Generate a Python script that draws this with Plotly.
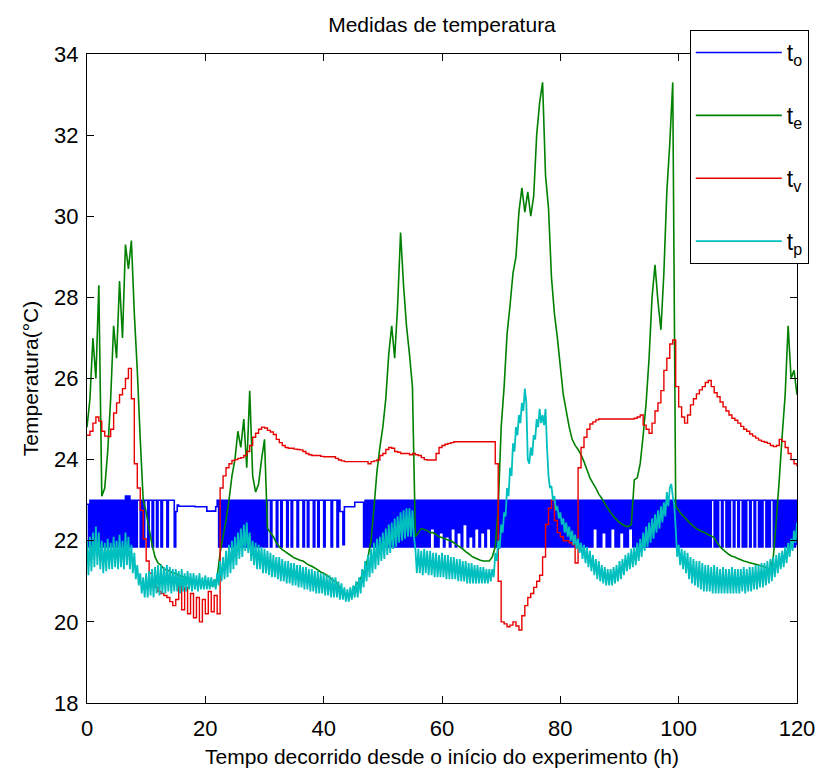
import plotly.graph_objects as go

# ---------------- data ----------------
STEP_FINE = 0.25    # h, sampling of t_o and t_p
STEP_COARSE = 0.5   # h, sampling of t_e and t_v

X_TICKS = [0, 20, 40, 60, 80, 100, 120]
Y_TICKS = [18, 20, 22, 24, 26, 28, 30, 32, 34]

# t_o : 0 .. 120 h, every 0.25 h (10 values per row = 2.5 h)
t_o = [
    22.9, 21.85, 23, 21.85, 23, 21.85, 23, 21.85, 23, 21.85,      # 0
    23, 21.85, 23, 21.85, 23, 21.85, 23, 21.85, 23, 21.85,        # 2.5
    23, 21.85, 23, 21.85, 23, 21.85, 23.1, 21.85, 23.1, 21.85,    # 5
    23, 21.85, 23, 21.85, 23, 23, 21.85, 23, 21.85, 23,           # 7.5
    23, 21.85, 23, 23, 21.85, 23, 23, 21.85, 23, 23,              # 10
    21.85, 23, 23, 23, 21.85, 23, 23, 23, 23, 21.85,              # 12.5
    22.72, 22.88, 22.85, 22.85, 22.85, 22.85, 22.85, 22.85, 22.85, 22.85,  # 15
    22.85, 22.85, 22.85, 22.84, 22.84, 22.84, 22.84, 22.84, 22.84, 22.84,  # 17.5
    22.84, 22.73, 22.73, 22.73, 22.73, 22.73, 22.73, 22.84, 23, 21.85,     # 20
    23, 21.85, 23, 21.85, 23, 21.85, 23, 21.85, 23, 21.85,        # 22.5
    23, 21.85, 23, 21.85, 23, 21.85, 23, 21.85, 23, 21.85,        # 25
    23, 21.85, 23, 21.85, 23, 21.85, 23, 21.85, 23, 21.85,        # 27.5
    23, 21.85, 23, 23, 21.85, 23, 23, 23, 21.85, 23,              # 30
    23, 21.85, 23, 23, 23, 21.85, 23, 23, 21.85, 23,              # 32.5
    23, 23, 21.85, 23, 23, 23, 21.85, 23, 23, 21.85,              # 35
    23, 23, 23, 21.85, 23, 23, 21.85, 23, 23, 23,                 # 37.5
    21.85, 23, 23, 23, 23, 21.85, 23, 23, 23, 21.85,              # 40
    23, 22.72, 22.72, 21.9, 22.84, 22.84, 22.84, 22.84, 22.84, 22.84,      # 42.5
    22.84, 22.95, 22.95, 22.95, 22.95, 22.95, 22.95, 21.85, 23, 21.85,     # 45
    23, 21.85, 23, 21.85, 23, 21.85, 23, 21.85, 23, 21.85,        # 47.5
    23, 21.85, 23, 21.85, 23, 21.85, 23, 21.85, 23, 21.85,        # 50
    23, 21.85, 23, 21.85, 23, 21.85, 23, 21.85, 23, 21.85,        # 52.5
    23, 21.85, 23, 21.85, 23, 21.85, 23, 21.85, 23, 21.85,        # 55
    23, 21.85, 23, 22.3, 23, 21.85, 23, 21.85, 23, 22.2,          # 57.5
    23, 21.85, 23, 22.1, 23, 21.85, 23, 22.3, 23, 21.85,          # 60
    23, 22.2, 23, 21.85, 23, 22.4, 23, 21.85, 23, 22.1,           # 62.5
    23, 21.85, 23, 22.3, 23, 21.85, 23, 22.2, 23, 21.85,          # 65
    23, 22.3, 23, 21.85, 23, 21.85, 23, 21.85, 23, 21.85,         # 67.5
    23, 21.85, 23, 21.85, 23, 21.85, 23, 21.85, 23, 21.85,        # 70
    23, 21.85, 23, 21.85, 23, 21.85, 23, 21.85, 23, 21.85,        # 72.5
    23, 21.85, 23, 21.85, 23, 21.85, 23, 21.85, 23, 21.85,        # 75
    23, 21.85, 23, 21.85, 23, 21.85, 23, 21.85, 23, 21.85,        # 77.5
    23, 21.85, 23, 21.85, 23, 21.85, 23, 21.85, 23, 21.85,        # 80
    23, 21.85, 23, 21.85, 23, 21.85, 23, 21.85, 23, 21.85,        # 82.5
    23, 21.85, 23, 22.3, 23, 21.85, 23, 21.85, 23, 22.2,          # 85
    23, 21.85, 23, 21.85, 23, 22.3, 23, 21.85, 23, 21.85,         # 87.5
    23, 22.2, 23, 21.85, 23, 21.85, 23, 22.3, 23, 21.85,          # 90
    23, 21.85, 23, 21.85, 23, 21.85, 23, 21.85, 23, 21.85,        # 92.5
    23, 21.85, 23, 21.85, 23, 21.85, 23, 21.85, 23, 21.85,        # 95
    23, 21.85, 23, 21.85, 23, 21.85, 23, 21.85, 23, 21.85,        # 97.5
    23, 21.85, 23, 21.85, 23, 21.85, 23, 21.85, 23, 21.85,        # 100
    23, 21.85, 23, 21.85, 23, 21.85, 23, 21.85, 23, 21.85,        # 102.5
    23, 21.85, 23, 23, 21.85, 23, 21.85, 23, 23, 21.85,           # 105
    23, 23, 21.85, 23, 21.85, 23, 23, 21.85, 23, 23,              # 107.5
    21.85, 23, 23, 21.85, 23, 21.85, 23, 23, 21.85, 23,           # 110
    23, 21.85, 23, 23, 21.85, 23, 21.85, 23, 23, 21.85,           # 112.5
    23, 21.85, 23, 23, 21.85, 23, 21.85, 23, 21.85, 23,           # 115
    21.85, 23, 21.85, 23, 21.85, 23, 21.85, 23, 21.85, 23,        # 117.5
    21.9,                                                          # 120
]

# t_e : 0 .. 120 h, every 0.5 h (10 values per row = 5 h)
t_e = [
    24.8, 25.5, 27.0, 26.0, 28.3, 23.1, 23.3, 24.2, 25.5, 27.3,            # 0
    26.5, 28.4, 27.0, 29.3, 28.7, 29.4, 27.6, 26.2, 24.5, 23.0,            # 5
    22.7, 22.3, 21.9, 21.6, 21.45, 21.4, 21.3, 21.28, 21.25, 21.2,         # 10
    21.2, 21.15, 21.12, 21.1, 21.08, 21.05, 21.03, 21.0, 21.0, 20.98,      # 15
    20.95, 20.92, 20.9, 20.9, 21.1, 21.7, 22.1, 22.5, 23.0, 23.6,          # 20
    24.0, 24.7, 24.3, 25.0, 23.8, 25.7, 23.6, 23.2, 23.4, 24.0,            # 25
    24.5, 22.3, 22.2, 22.1, 21.95, 21.85, 21.78, 21.73, 21.68, 21.63,      # 30
    21.58, 21.55, 21.52, 21.5, 21.45, 21.4, 21.37, 21.33, 21.28, 21.23,    # 35
    21.2, 21.15, 21.1, 21.03, 21.0, 20.9, 20.8, 20.72, 20.63, 20.65,       # 40
    20.8, 20.9, 21.0, 21.15, 21.3, 21.6, 22.0, 22.8, 23.7, 24.3,           # 45
    24.8, 25.5, 26.6, 27.3, 26.5, 27.8, 29.6, 28.3, 27.3, 26.6,            # 50
    25.8, 22.1, 22.2, 22.3, 22.28, 22.25, 22.2, 22.2, 22.15, 22.1,         # 55
    22.08, 22.05, 22.02, 22.0, 21.95, 21.9, 21.85, 21.8, 21.73, 21.68,     # 60
    21.62, 21.58, 21.55, 21.52, 21.5, 21.5, 21.5, 21.6, 21.85, 22.8,       # 65
    24.8, 25.8, 27.1, 27.8, 28.6, 29.0, 30.1, 30.7, 30.1, 30.6,            # 70
    30.0, 30.5, 32.0, 32.8, 33.3, 31.0, 30.2, 28.5, 27.6, 27.0,            # 75
    26.3, 25.6, 25.2, 24.8, 24.5, 24.35, 24.25, 24.12, 23.95, 23.75,       # 80
    23.55, 23.42, 23.3, 23.15, 23.05, 22.92, 22.8, 22.7, 22.6, 22.52,      # 85
    22.45, 22.4, 22.36, 22.35, 22.4, 23.5, 23.55, 23.9, 24.6, 25.4,        # 90
    26.5, 28.0, 28.8, 27.9, 27.2, 28.6, 30.6, 31.8, 33.3, 22.85,           # 95
    22.75, 22.65, 22.58, 22.5, 22.42, 22.36, 22.3, 22.26, 22.22, 22.2,     # 100
    22.15, 22.12, 22.08, 21.95, 21.85, 21.78, 21.72, 21.66, 21.62, 21.6,   # 105
    21.56, 21.53, 21.5, 21.48, 21.46, 21.44, 21.42, 21.4, 21.38, 21.36,    # 110
    21.32, 21.28, 21.6, 22.5, 23.5, 24.6, 25.6, 27.3, 26.0, 26.2,          # 115
    25.6,                                                                   # 120
]

# t_v : 0 .. 120 h, every 0.5 h
t_v = [
    24.6, 24.7, 24.9, 25.05, 24.95, 24.7, 24.58, 24.57, 24.75, 25.15,      # 0
    25.4, 25.6, 25.75, 26.0, 26.25, 25.5, 23.9, 23.3, 22.75, 22.05,        # 5
    21.5, 21.2, 20.95, 20.85, 20.75, 20.7, 20.65, 20.6, 20.5, 20.4,        # 10
    20.55, 20.9, 20.3, 20.85, 20.2, 20.7, 20.1, 20.6, 20.0, 20.55,         # 15
    20.2, 20.75, 20.25, 20.65, 20.2, 23.3, 23.6, 23.8, 23.9, 23.98,        # 20
    24.0, 24.03, 24.05, 24.1, 24.2, 24.35, 24.55, 24.65, 24.75, 24.8,      # 25
    24.78, 24.72, 24.68, 24.62, 24.5, 24.42, 24.35, 24.3, 24.28, 24.28,    # 30
    24.26, 24.25, 24.24, 24.2, 24.15, 24.12, 24.1, 24.1, 24.1, 24.08,      # 35
    24.07, 24.07, 24.07, 24.07, 24.03, 23.99, 23.97, 23.95, 23.95, 23.95,  # 40
    23.95, 23.95, 23.95, 23.95, 23.95, 23.9, 23.95, 23.97, 23.99, 24.1,    # 45
    24.15, 24.25, 24.3, 24.28, 24.2, 24.18, 24.15, 24.15, 24.15, 24.12,    # 50
    24.15, 24.12, 24.1, 24.05, 24.0, 23.99, 23.99, 23.99, 24.15, 24.3,     # 55
    24.35, 24.38, 24.4, 24.42, 24.44, 24.44, 24.44, 24.44, 24.44, 24.44,   # 60
    24.44, 24.44, 24.44, 24.44, 24.44, 24.44, 24.44, 24.44, 23.9, 21.0,    # 65
    20.0, 19.95, 19.88, 19.92, 20.0, 19.9, 19.8, 20.15, 20.4, 20.6,        # 70
    20.7, 20.85, 21.0, 21.15, 21.6, 22.4, 22.8, 23.0, 22.5, 22.2,          # 75
    22.1, 22.0, 22.0, 21.95, 21.9, 21.45, 23.8, 24.3, 24.55, 24.75,        # 80
    24.88, 24.93, 24.98, 25.0, 25.0, 25.0, 25.0, 25.0, 25.0, 25.0,         # 85
    25.0, 25.0, 25.0, 25.0, 25.0, 25.02, 25.05, 25.1, 24.85, 24.75,        # 90
    24.65, 24.9, 25.2, 25.4, 25.7, 26.2, 26.5, 26.85, 26.95, 25.8,         # 95
    25.3, 25.05, 24.9, 25.1, 25.35, 25.5, 25.62, 25.72, 25.8, 25.9,        # 100
    25.95, 25.8, 25.65, 25.55, 25.42, 25.3, 25.2, 25.1, 25.02, 24.97,      # 105
    24.9, 24.82, 24.75, 24.7, 24.63, 24.58, 24.53, 24.48, 24.45, 24.43,    # 110
    24.4, 24.35, 24.32, 24.35, 24.5, 24.45, 24.3, 24.15, 24.0, 23.9,       # 115
    23.83,                                                                  # 120
]

# t_p : 0 .. 120 h, every 0.25 h
t_p = [
    22.0, 21.15, 22.1, 21.25, 22.2, 21.35, 22.35, 21.4, 22.2, 21.3,        # 0
    22.0, 21.2, 21.95, 21.25, 22.05, 21.3, 21.95, 21.3, 22.1, 21.35,       # 2.5
    22.0, 21.3, 22.15, 21.35, 22.0, 21.3, 22.2, 21.4, 22.1, 21.3,          # 5
    21.9, 21.2, 21.7, 21.05, 21.4, 20.9, 21.2, 20.7, 21.1, 20.6,           # 7.5
    21.2, 20.6, 21.25, 20.65, 21.3, 20.6, 21.35, 20.7, 21.4, 20.65,        # 10
    21.4, 20.7, 21.35, 20.7, 21.4, 20.75, 21.35, 20.7, 21.3, 20.75,        # 12.5
    21.3, 20.75, 21.25, 20.7, 21.3, 20.75, 21.2, 20.75, 21.25, 20.8,       # 15
    21.2, 20.75, 21.2, 20.8, 21.15, 20.75, 21.2, 20.8, 21.1, 20.8,         # 17.5
    21.15, 20.8, 21.1, 20.8, 21.1, 20.85, 21.05, 20.8, 21.2, 20.9,         # 20
    21.5, 21.0, 21.6, 21.05, 21.75, 21.1, 21.9, 21.2, 22.0, 21.3,          # 22.5
    22.1, 21.4, 22.2, 21.55, 22.3, 21.6, 22.4, 21.75, 22.45, 21.7,         # 25
    22.2, 21.5, 22.0, 21.4, 21.95, 21.3, 21.9, 21.3, 21.85, 21.2,          # 27.5
    21.8, 21.2, 21.75, 21.15, 21.7, 21.1, 21.65, 21.1, 21.6, 21.05,        # 30
    21.6, 21.0, 21.55, 21.0, 21.5, 20.95, 21.5, 20.95, 21.45, 20.9,        # 32.5
    21.45, 20.9, 21.4, 20.85, 21.4, 20.85, 21.35, 20.8, 21.35, 20.8,       # 35
    21.3, 20.75, 21.3, 20.75, 21.25, 20.7, 21.25, 20.7, 21.2, 20.7,        # 37.5
    21.2, 20.65, 21.15, 20.65, 21.15, 20.6, 21.1, 20.6, 21.1, 20.6,        # 40
    21.0, 20.55, 20.95, 20.55, 20.85, 20.5, 20.8, 20.5, 20.85, 20.55,      # 42.5
    20.9, 20.6, 21.0, 20.6, 21.1, 20.7, 21.3, 20.85, 21.5, 21.0,           # 45
    21.65, 21.1, 21.8, 21.2, 21.95, 21.3, 22.05, 21.4, 22.1, 21.5,         # 47.5
    22.2, 21.55, 22.3, 21.65, 22.4, 21.7, 22.45, 21.8, 22.55, 21.85,       # 50
    22.6, 21.95, 22.7, 22.0, 22.75, 22.05, 22.8, 22.1, 22.8, 22.1,         # 52.5
    22.75, 22.1, 21.8, 21.2, 21.8, 21.2, 21.75, 21.15, 21.8, 21.2,         # 55
    21.75, 21.15, 21.75, 21.15, 21.7, 21.1, 21.7, 21.1, 21.65, 21.1,       # 57.5
    21.7, 21.1, 21.65, 21.05, 21.65, 21.05, 21.6, 21.05, 21.6, 21.05,      # 60
    21.55, 21.0, 21.55, 21.0, 21.5, 21.0, 21.5, 20.95, 21.45, 20.95,       # 62.5
    21.45, 20.95, 21.4, 20.95, 21.4, 20.95, 21.35, 20.95, 21.35, 20.95,    # 65
    21.3, 20.95, 21.3, 21.0, 21.3, 21.1, 21.7, 21.5, 22.0, 21.8,           # 67.5
    22.4, 22.2, 22.7, 22.6, 23.3, 23.1, 23.8, 23.6, 24.4, 24.2,            # 70
    24.8, 24.6, 25.1, 24.9, 25.4, 25.2, 25.75, 25.4, 24.0, 23.9,           # 72.5
    24.3, 24.1, 24.6, 24.5, 25.0, 24.8, 25.25, 24.9, 25.1, 24.85,          # 75
    25.25, 24.3, 23.6, 23.3, 23.35, 23.0, 23.1, 22.75, 22.85, 22.55,       # 77.5
    22.7, 22.4, 22.55, 22.2, 22.45, 22.1, 22.35, 22.0, 22.25, 21.9,        # 80
    22.15, 21.8, 22.05, 21.7, 21.95, 21.55, 21.9, 21.45, 21.85, 21.35,     # 82.5
    21.75, 21.25, 21.65, 21.15, 21.55, 21.05, 21.5, 21.0, 21.4, 20.95,     # 85
    21.35, 20.9, 21.3, 20.9, 21.3, 20.9, 21.35, 20.95, 21.4, 21.0,         # 87.5
    21.5, 21.05, 21.55, 21.15, 21.65, 21.25, 21.7, 21.3, 21.8, 21.35,      # 90
    21.85, 21.4, 21.95, 21.5, 22.05, 21.6, 22.2, 21.75, 22.35, 21.85,      # 92.5
    22.45, 21.95, 22.55, 22.05, 22.65, 22.2, 22.75, 22.3, 22.85, 22.45,    # 95
    22.95, 22.6, 23.2, 22.85, 23.3, 23.4, 23.1, 22.9, 22.3, 21.6,          # 97.5
    21.9, 21.4, 21.8, 21.3, 21.75, 21.2, 21.7, 21.05, 21.6, 20.95,         # 100
    21.55, 20.9, 21.5, 20.85, 21.5, 20.8, 21.45, 20.75, 21.4, 20.75,       # 102.5
    21.4, 20.75, 21.35, 20.7, 21.4, 20.7, 21.35, 20.7, 21.3, 20.7,         # 105
    21.35, 20.7, 21.3, 20.7, 21.3, 20.7, 21.35, 20.7, 21.3, 20.7,          # 107.5
    21.3, 20.7, 21.3, 20.75, 21.35, 20.7, 21.3, 20.75, 21.35, 20.75,       # 110
    21.35, 20.8, 21.4, 20.8, 21.4, 20.85, 21.45, 20.85, 21.45, 20.9,       # 112.5
    21.5, 20.95, 21.55, 21.0, 21.6, 21.1, 21.65, 21.2, 21.7, 21.3,         # 115
    21.75, 21.35, 21.85, 21.45, 21.95, 21.6, 22.05, 21.75, 22.25, 21.95,   # 117.5
    22.45,                                                                  # 120
]

# name, values, sampling step, colour, line width, line shape
SERIES = [
    ("t<sub>o</sub>", t_o, STEP_FINE, "#0000ff", 1.6, "hv"),
    ("t<sub>e</sub>", t_e, STEP_COARSE, "#008000", 1.6, "linear"),
    ("t<sub>v</sub>", t_v, STEP_COARSE, "#e80000", 1.4, "hv"),
    ("t<sub>p</sub>", t_p, STEP_FINE, "#00bfbf", 1.8, "linear"),
]

FONT = "Liberation Sans, Arial, Helvetica, sans-serif"
FS = 21

# the page body adds an 8 px offset, so the figure is 8 px smaller
FIG_W, FIG_H = 817, 773

fig = go.Figure()
for k, (name, vals, step, color, width, shape) in enumerate(SERIES):
    hours = [i * step for i in range(len(vals))]
    fig.add_trace(go.Scatter(
        x=hours, y=vals, mode="lines", name=name,
        legendgroup="g%d" % k,
        line=dict(color=color, width=width, shape=shape, simplify=False),
    ))

axis_common = dict(
    showline=True, linecolor="black", linewidth=1, mirror="ticks",
    ticks="inside", ticklen=7, tickcolor="black", tickwidth=1,
    showgrid=False, zeroline=False,
    tickfont=dict(family=FONT, size=22, color="black"),
    automargin=False,
)

fig.update_layout(
    width=FIG_W, height=FIG_H,
    margin=dict(l=79, r=28, t=46, b=78),
    paper_bgcolor="white", plot_bgcolor="white",
    font=dict(family=FONT, size=FS, color="black"),
    title=dict(text="Medidas de temperatura", x=0.5, xref="paper",
               y=1 - 17 / FIG_H, yref="container", yanchor="middle",
               font=dict(family=FONT, size=FS, color="black")),
    xaxis=dict(range=[0, 120], tickvals=X_TICKS, ticklabelstandoff=6,
               title=dict(text="Tempo decorrido desde o início do experimento (h)",
                          standoff=8, font=dict(family=FONT, size=FS)),
               **axis_common),
    yaxis=dict(range=[18, 34], tickvals=Y_TICKS, ticklabelstandoff=3,
               title=dict(text="Temperatura(°C)", standoff=9,
                          font=dict(family=FONT, size=FS)),
               **axis_common),
    legend=dict(x=0.849, y=1.037, xanchor="left", yanchor="top",
                bgcolor="white", bordercolor="black", borderwidth=1,
                font=dict(family=FONT, size=23, color="black"),
                itemwidth=86, tracegroupgap=30),
    showlegend=True,
)

fig.write_html("out.html")
